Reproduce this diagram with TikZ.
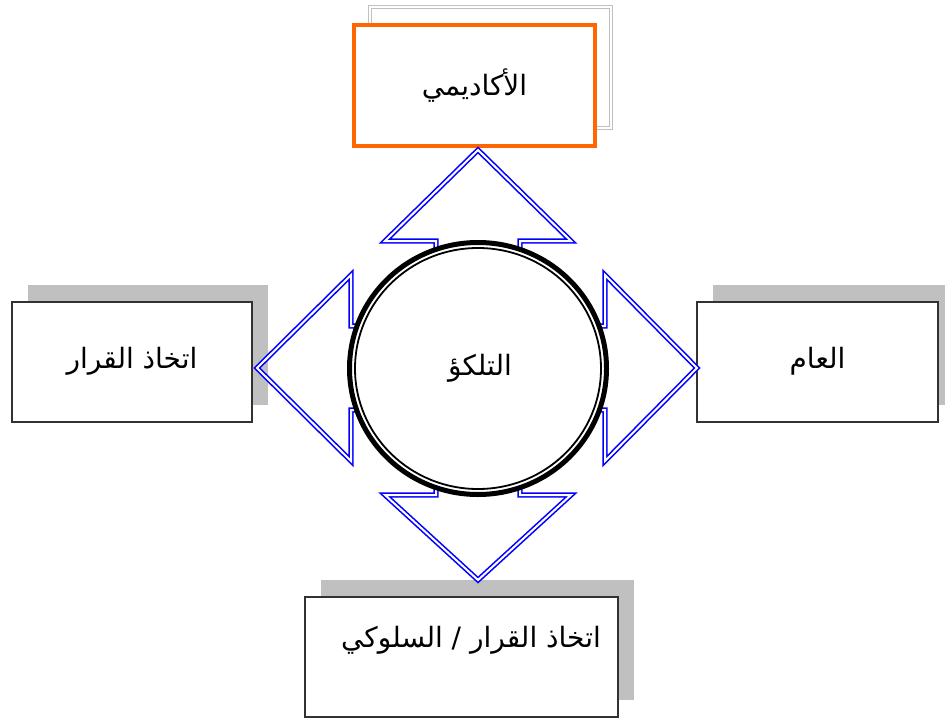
\documentclass[tikz,border=0pt]{standalone}
\usepackage{fontspec}
\newfontfamily\arabicfont[Script=Arabic]{DejaVu Sans}
\TeXXeTstate=1
\usetikzlibrary{shapes.geometric,shadows}
\definecolor{orng}{RGB}{255,102,0}
\definecolor{boxgray}{RGB}{50,50,50}
\definecolor{shadegray}{RGB}{192,192,192}
\def\ar#1{{\arabicfont\fontsize{28}{32}\selectfont\beginR #1\endR}}

\begin{document}
\begin{tikzpicture}[x=1pt, y=-1pt,
	box/.style={draw=boxgray, line width=2pt, fill=white, minimum width=240pt, minimum height=120pt,
		drop shadow={shadow xshift=16pt, shadow yshift=17pt, opacity=1, fill=shadegray}},
	topbox/.style={draw=orng, line width=4.5pt, fill=white, minimum width=241pt, minimum height=121pt,
		general shadow={shadow xshift=16pt, shadow yshift=18pt, draw=shadegray, line width=1.6pt, double=white, double distance=1.4pt, fill=white}},
	blockarrow/.style={draw=blue, line width=1.6pt, double=white, double distance=2pt, line join=miter}]
			%%%%% START %%%%%
			
			\clip (0, 0) rectangle (945, 720);
			
			% boxes
			\node[topbox] (academic) at (474.5, 85.5) {\ar{الأكاديمي}};
			\node[box] (decision) at (132, 361.5) {\ar{اتخاذ القرار}};
			\node[box, minimum width=241pt] (general) at (817.5, 361.5) {\ar{العام}};
			\node[box, minimum width=313pt] (behaviour) at (461.5, 657) {};
			\node at (471, 640) (behaviourtxt) {\ar{اتخاذ القرار / السلوكي}};
			
			% the four arrows round the centre (up, left, down, right)
			\foreach \ang/\len in {0/218, 90/221, 180/212, 270/219}{
				\begin{scope}[shift={(478, 368)}, rotate=\ang]
					\draw[blockarrow] (0, -\len) -- (93, -127) -- (42, -127) -- (42, -90)
						-- (-42, -90) -- (-42, -127) -- (-93, -127) -- cycle;
				\end{scope}
			}
			
			% centre
			\node[ellipse, draw=black, line width=5pt, fill=white, minimum width=257pt, minimum height=252pt] (delay) at (478, 368.5) {};
			\draw[line width=1.8pt] (delay.center) ellipse (123pt and 120.5pt);
			\node at (480, 368) (delaytxt) {\ar{التلكؤ}};
			
			%%%%% END %%%%%
\end{tikzpicture}
\end{document}
